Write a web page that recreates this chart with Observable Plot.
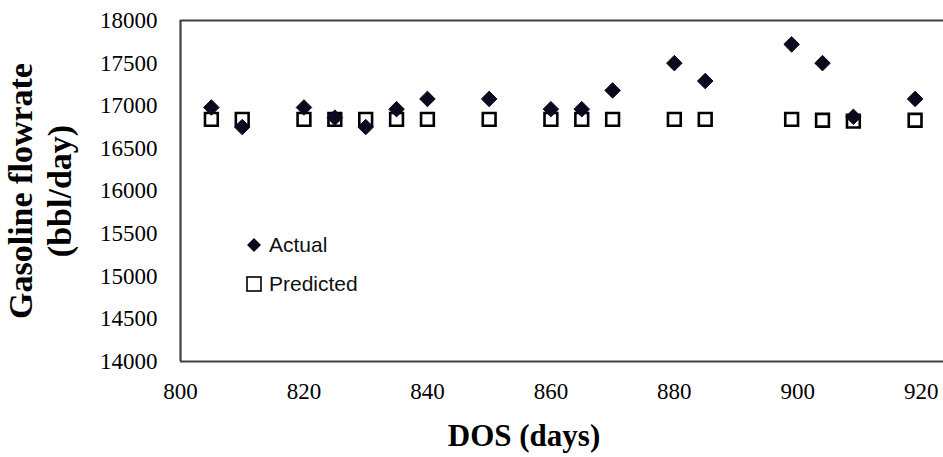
<!DOCTYPE html>
<html>
<head>
<meta charset="utf-8">
<script src="https://cdn.jsdelivr.net/npm/d3@7"></script>
<script src="https://cdn.jsdelivr.net/npm/@observablehq/plot@0.6"></script>
<style>
  html, body { margin: 0; padding: 0; background: #fff; }
  #wrap { position: relative; width: 943px; height: 457px; overflow: hidden; }
  .ytitle {
    position: absolute; left: 40px; top: 191px;
    transform: translate(-50%, -50%) rotate(-90deg);
    font: bold 34px "Liberation Serif", "Times New Roman", serif; line-height: 39px;
    text-align: center; white-space: nowrap; color: #000;
  }
  .xtitle {
    position: absolute; left: 524px; top: 436px;
    transform: translate(-50%, -50%);
    font: bold 31px "Liberation Serif", "Times New Roman", serif; white-space: nowrap; color: #000;
  }
  .leg { position: absolute; left: 245px; font: 21px "Liberation Sans", sans-serif; color: #111;
    display: flex; align-items: center; white-space: nowrap; }
  .leg svg { margin-right: 6px; }
</style>
</head>
<body>
<div id="wrap"></div>
<script>
const days = [805, 810, 820, 825, 830, 835, 840, 850, 860, 865, 870, 880, 885, 899, 904, 909, 919];
const actual = [16980, 16750, 16980, 16860, 16750, 16960, 17080, 17080, 16960, 16960, 17180, 17500, 17290, 17720, 17500, 16870, 17080];
const predicted = [16840, 16840, 16840, 16840, 16840, 16840, 16840, 16840, 16840, 16840, 16840, 16840, 16840, 16840, 16830, 16820, 16830];
const xTicks = [800, 820, 840, 860, 880, 900, 920];
const yTicks = [14000, 14500, 15000, 15500, 16000, 16500, 17000, 17500, 18000];
const seriesNames = ["Actual", "Predicted"];

const rows = days.map((d, i) => ({day: d, actual: actual[i], predicted: predicted[i]}));

const serif = "Times New Roman";
const plainNumber = d => String(d);

const chart = Plot.plot({
  width: 943,
  height: 457,
  marginLeft: 180,
  marginRight: 0,
  marginTop: 20,
  marginBottom: 96,
  style: {fontSize: "24px"},
  x: {domain: [800, 923.6], label: null},
  y: {domain: [14000, 18000], label: null},
  marks: [
    Plot.axisX(xTicks, {tickSize: 0, tickPadding: 21, label: null, tickFormat: plainNumber,
      fontFamily: serif, fontSize: 23, fontVariant: "normal"}),
    Plot.axisY(yTicks, {tickSize: 0, tickPadding: 23, label: null, tickFormat: plainNumber,
      fontFamily: serif, fontSize: 23, fontVariant: "normal"}),
    Plot.ruleX([xTicks[0]], {stroke: "#404040", strokeWidth: 2.2}),
    Plot.ruleY([yTicks[0], yTicks[yTicks.length - 1]], {stroke: "#404040", strokeWidth: 2.2}),
    Plot.dot(rows, {x: "day", y: "predicted", symbol: "square", r: 7.2, fill: "none", stroke: "#000", strokeWidth: 2.6}),
    Plot.dot(rows, {x: "day", y: "actual", symbol: "diamond2", r: 7, fill: "#0a0a1e", stroke: "#0a0a1e", strokeWidth: 1})
  ]
});

const wrap = document.getElementById("wrap");
wrap.appendChild(chart);

const yt = document.createElement("div");
yt.className = "ytitle";
yt.innerHTML = "Gasoline flowrate<br>(bbl/day)";
wrap.appendChild(yt);

const xt = document.createElement("div");
xt.className = "xtitle";
xt.textContent = "DOS (days)";
wrap.appendChild(xt);

const legSymbols = [
  '<svg width="18" height="18" viewBox="-9 -9 18 18"><path d="M0,-7L7,0L0,7L-7,0Z" fill="#0a0a1e"/></svg>',
  '<svg width="18" height="18" viewBox="-9 -9 18 18"><rect x="-7" y="-7" width="14" height="14" fill="none" stroke="#000" stroke-width="1.6"/></svg>'
];
const legTops = [233, 272];
seriesNames.forEach((name, i) => {
  const el = document.createElement("div");
  el.className = "leg";
  el.style.top = legTops[i] + "px";
  el.innerHTML = legSymbols[i] + "<span>" + name + "</span>";
  wrap.appendChild(el);
});
</script>
</body>
</html>
